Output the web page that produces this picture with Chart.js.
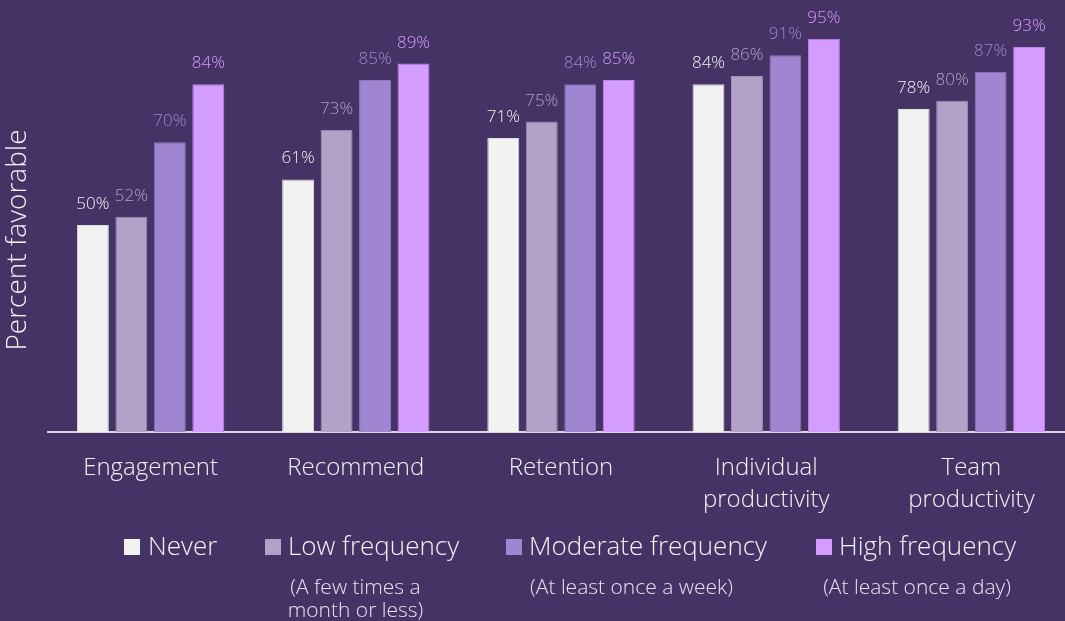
<!DOCTYPE html>
<html><head><meta charset="utf-8">
<script src="https://cdn.jsdelivr.net/npm/chart.js@4.4.1/dist/chart.umd.min.js"></script>
<style>
html,body{margin:0;padding:0;background:#463366;overflow:hidden;width:1065px;height:621px;}
#wrap{position:absolute;left:0;top:0;width:1080px;height:621px;}
</style></head>
<body><div id="wrap"><canvas id="c" width="1080" height="621"></canvas></div>
<script>
const categories = [["Engagement"], ["Recommend"], ["Retention"], ["Individual", "productivity"], ["Team", "productivity"]];
const seriesNames = ["Never", "Low frequency", "Moderate frequency", "High frequency"];
const seriesNotes = [[], ["(A few times a", "month or less)"], ["(At least once a week)"], ["(At least once a day)"]];
const never = [50, 61, 71, 84, 78];
const lowFreq = [52, 73, 75, 86, 80];
const moderateFreq = [70, 85, 84, 91, 87];
const highFreq = [84, 89, 85, 95, 93];
const yTitle = "Percent favorable";

const barColors = ["#F2F2F2", "#B3A2C7", "#A086D0", "#D59CFF"];
const edgeColors = ["#DCDCDC", "#9F8DB6", "#8D72BF", "#C083EE"];
const labelColors = ["#F2F2F2", "#B3A2C7", "#A086D0", "#D59CFF"];
const FONT = "'Open Sans', 'Noto Sans', sans-serif";
const W = "350 ";

const values = [never, lowFreq, moderateFreq, highFreq];
const datasets = values.map((v, i) => ({
  label: seriesNames[i], data: v,
  backgroundColor: barColors[i], borderColor: edgeColors[i], borderWidth: 1,
  categoryPercentage: 0.75, barPercentage: 0.83
}));

const labelsPlugin = {
  id: 'valueLabels',
  afterDatasetsDraw(chart) {
    const ctx = chart.ctx;
    ctx.save();
    ctx.font = W + "17px " + FONT;
    ctx.textAlign = 'center';
    ctx.textBaseline = 'alphabetic';
    chart.data.datasets.forEach((ds, i) => {
      const meta = chart.getDatasetMeta(i);
      ctx.fillStyle = labelColors[i];
      meta.data.forEach((el, j) => {
        ctx.fillText(ds.data[j] + '%', el.x, el.y - 16);
      });
    });
    ctx.restore();
  }
};

const legendLayout = [
  {box: 124, text: 148, note: 0},
  {box: 265, text: 288, note: 355.5},
  {box: 506, text: 529, note: 631.5},
  {box: 816, text: 839, note: 917}
];
const decorPlugin = {
  id: 'decor',
  afterDraw(chart) {
    const ctx = chart.ctx;
    ctx.save();
    ctx.translate(18, 240);
    ctx.rotate(-Math.PI / 2);
    ctx.font = W + "28px " + FONT;
    ctx.fillStyle = "#F2F2F2";
    ctx.textAlign = 'center';
    ctx.textBaseline = 'middle';
    ctx.fillText(yTitle, 0, 0);
    ctx.restore();
    ctx.save();
    seriesNames.forEach((name, i) => {
      const L = legendLayout[i];
      ctx.fillStyle = barColors[i];
      ctx.fillRect(L.box, 539, 16, 16);
      ctx.font = W + "26px " + FONT;
      ctx.fillStyle = "#F2F2F2";
      ctx.textAlign = 'left';
      ctx.textBaseline = 'alphabetic';
      ctx.fillText(name, L.text, 555);
      ctx.font = W + "21px " + FONT;
      ctx.fillStyle = "#E8E2F2";
      ctx.textAlign = 'center';
      seriesNotes[i].forEach((line, k) => {
        ctx.fillText(line, L.note, 594 + k * 23);
      });
    });
    ctx.restore();
  }
};

new Chart(document.getElementById('c'), {
  type: 'bar',
  data: { labels: categories, datasets: datasets },
  options: {
    responsive: false, animation: false,
    layout: { padding: { left: 48, right: 6, top: 18, bottom: 0 } },
    plugins: { legend: { display: false }, tooltip: { enabled: false } },
    scales: {
      x: {
        grid: { display: false, drawTicks: false, tickLength: 0 },
        border: { display: true, color: "#D9D9D9", width: 2 },
        ticks: { color: "#F2F2F2", font: { family: FONT, size: 24, weight: 350, lineHeight: 1.35 }, padding: 20, maxRotation: 0, autoSkip: false },
        afterFit(scale) { scale.height = 189; }
      },
      y: {
        display: false, min: 0, max: 100,
        afterFit(scale) { scale.width = 0; }
      }
    }
  },
  plugins: [labelsPlugin, decorPlugin]
});
</script></body></html>
